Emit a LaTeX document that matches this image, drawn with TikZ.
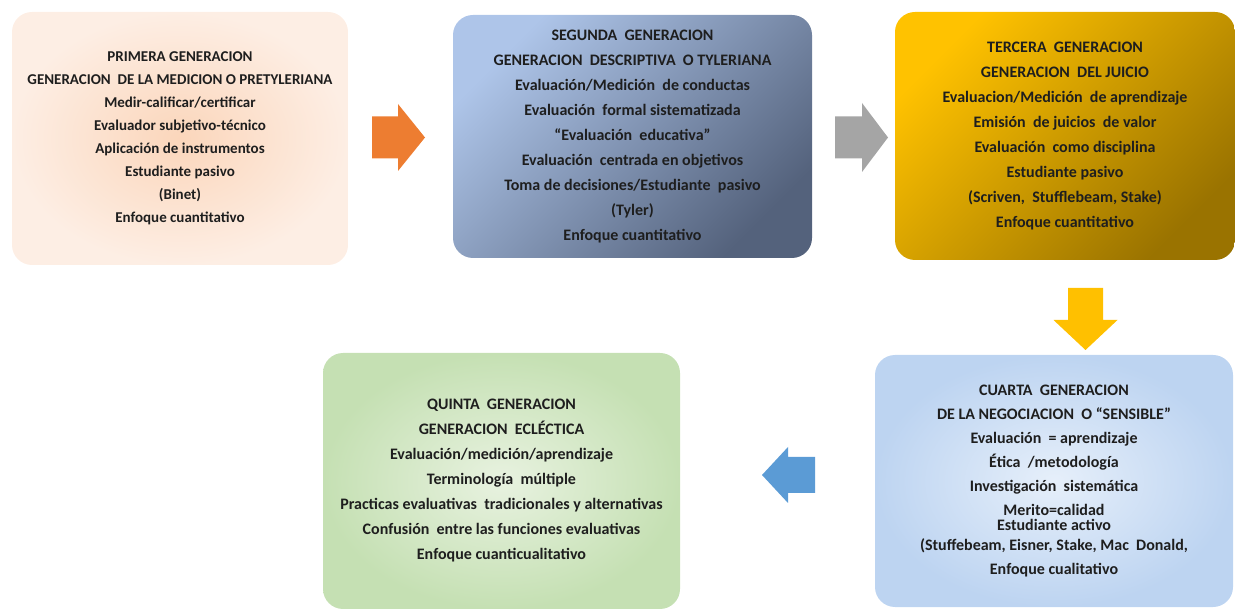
\documentclass[tikz,border=0pt]{standalone}
\usepackage{fontspec}
\setmainfont{Carlito}
\definecolor{peachIn}{HTML}{FBD6BB}
\definecolor{peachOut}{HTML}{FDEEE4}
\definecolor{slateTop}{HTML}{AEC5E9}
\definecolor{slateBot}{HTML}{54627C}
\definecolor{goldTop}{HTML}{FFC200}
\definecolor{goldBot}{HTML}{9A7300}
\definecolor{skyIn}{HTML}{E6EFFA}
\definecolor{skyOut}{HTML}{BDD4F1}
\definecolor{mintIn}{HTML}{E8F2E0}
\definecolor{mintOut}{HTML}{C5E0B3}
\definecolor{arrOrange}{HTML}{ED7D31}
\definecolor{arrGray}{HTML}{A5A5A5}
\definecolor{arrYellow}{HTML}{FFC000}
\definecolor{arrBlue}{HTML}{5B9BD5}
\definecolor{txt}{HTML}{1E1E1E}
\begin{document}
\begin{tikzpicture}[x=1pt,y=-1pt,
  genbox/.style={rounded corners=20pt, inner sep=0pt, align=center, text=txt,
    font=\bfseries\fontsize{16}{25}\selectfont},
  blockarrow/.style={draw=none}
]
\useasboundingbox (0,0) rectangle (1235,609);

% generation boxes
\node[genbox, minimum width=336pt, minimum height=253pt,
  shading=radial, inner color=peachIn, outer color=peachOut,
  font=\bfseries\fontsize{15}{23}\selectfont] (b1) at (180,138.5)
  {PRIMERA GENERACION\\
   GENERACION~ DE LA MEDICION O PRETYLERIANA\\
   Medir-calificar/certificar\\
   Evaluador subjetivo-técnico\\
   Aplicación de instrumentos\\
   Estudiante pasivo\\
   (Binet)\\
   Enfoque cuantitativo};

\node[genbox, minimum width=359pt, minimum height=243pt,
  top color=slateTop, bottom color=slateBot, shading angle=45] (b2) at (632.5,136.5)
  {SEGUNDA~ GENERACION\\
   GENERACION~ DESCRIPTIVA~ O TYLERIANA\\
   Evaluación/Medición~ de conductas\\
   Evaluación~ formal sistematizada\\
   “Evaluación~ educativa”\\
   Evaluación~ centrada en objetivos\\
   Toma de decisiones/Estudiante~ pasivo\\
   (Tyler)\\
   Enfoque cuantitativo};

\node[genbox, minimum width=340pt, minimum height=248pt,
  top color=goldTop, bottom color=goldBot, shading angle=45] (b3) at (1065,136)
  {TERCERA~ GENERACION\\
   GENERACION~ DEL JUICIO\\
   Evaluacion/Medición~ de aprendizaje\\
   Emisión~ de juicios~ de valor\\
   Evaluación~ como disciplina\\
   Estudiante pasivo\\
   (Scriven,~ Stufflebeam, Stake)\\
   Enfoque cuantitativo};

\node[genbox, minimum width=358pt, minimum height=252pt,
  shading=radial, inner color=skyIn, outer color=skyOut,
  font=\bfseries\fontsize{16}{24}\selectfont] (b4) at (1054,481)
  {CUARTA~ GENERACION\\
   DE LA NEGOCIACION~ O “SENSIBLE”\\
   Evaluación~ = aprendizaje\\
   Ética~ /metodología\\
   Investigación~ sistemática\\
   Merito=calidad\\[-9pt]
   Estudiante activo\\[-4pt]
   (Stuffebeam, Eisner, Stake, Mac~ Donald,\\
   Enfoque cualitativo};

\node[genbox, minimum width=357pt, minimum height=256pt,
  shading=radial, inner color=mintIn, outer color=mintOut] (b5) at (501.5,481)
  {QUINTA~ GENERACION\\
   GENERACION~ ECLÉCTICA\\
   Evaluación/medición/aprendizaje\\
   Terminología~ múltiple\\
   Practicas evaluativas~ tradicionales y alternativas\\
   Confusión~ entre las funciones evaluativas\\
   Enfoque cuanticualitativo};

% block arrows between the generations
\coordinate (a12) at (372,137.5);
\coordinate (a23) at (835,137.5);
\coordinate (a34) at (1085.5,288);
\coordinate (a45) at (815,475);

\fill[blockarrow, arrOrange] (a12) ++(0,-21) -- ++(26,0) -- ++(0,-12.5)
  -- ++(27,33.5) -- ++(-27,33.5) -- ++(0,-12.5) -- ++(-26,0) -- cycle;
\fill[blockarrow, arrGray] (a23) ++(0,-21) -- ++(27,0) -- ++(0,-13.5)
  -- ++(26,34.5) -- ++(-26,34.5) -- ++(0,-13.5) -- ++(-27,0) -- cycle;
\fill[blockarrow, arrYellow] (a34) ++(-17.5,0) -- ++(0,32) -- ++(-14.5,0)
  -- ++(32,30) -- ++(32,-30) -- ++(-14.5,0) -- ++(0,-32) -- cycle;
\fill[blockarrow, arrBlue] (a45) ++(0,-18) -- ++(-27,0) -- ++(0,-10)
  -- ++(-26,28) -- ++(26,28) -- ++(0,-10) -- ++(27,0) -- cycle;
\end{tikzpicture}
\end{document}
